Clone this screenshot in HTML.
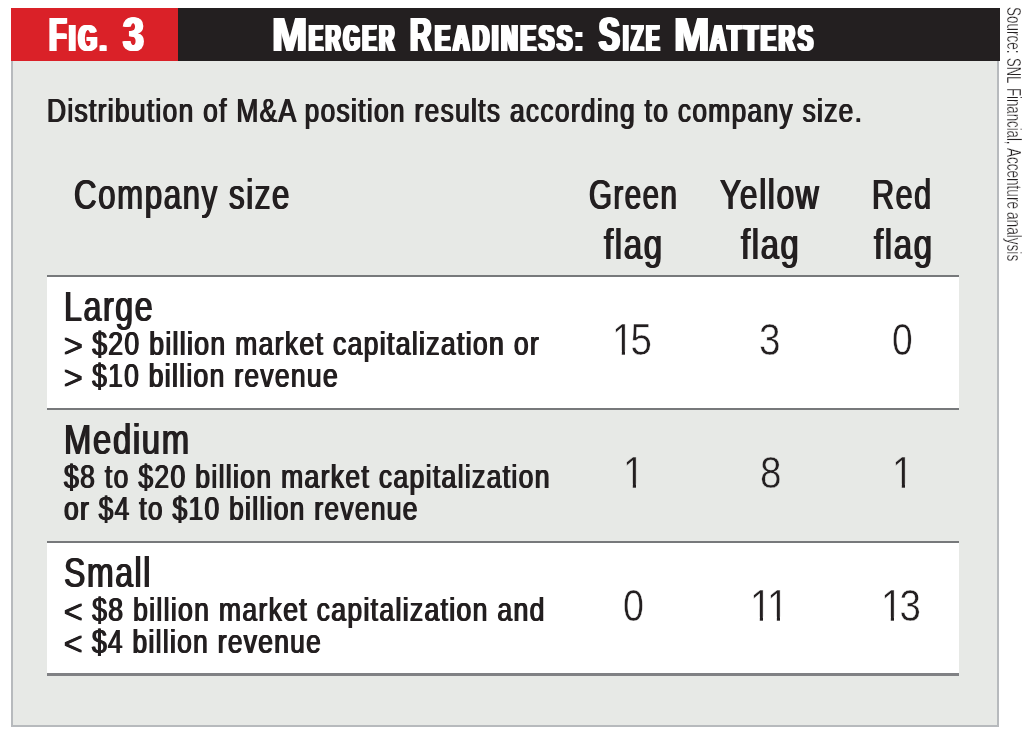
<!DOCTYPE html>
<html lang="en">
<head>
<meta charset="utf-8">
<title>Fig. 3 Merger Readiness: Size Matters</title>
<style>
html,body{margin:0;padding:0}
body{width:1032px;height:733px;position:relative;overflow:hidden;background:#fff;font-family:"Liberation Sans",sans-serif;color:#231f20}
figure,h1,p,table,thead,tbody{display:block;margin:0;padding:0;border:0;font:inherit}
th,td{display:inline;padding:0;font:inherit}
.panel{position:absolute;left:11px;top:57px;width:984px;height:665.8px;background:#e7e9e6;border:2.5px solid #b7babd}
.bar{position:absolute;left:11px;top:8px;width:989px;height:53px;background:#231f20}
.bar .tag{position:absolute;left:0;top:0;width:166.6px;height:53px;background:#da2128}
.row{display:block;position:absolute;left:47px;width:912px;height:131px;border-top:2px solid #77797b}
.row.w{background:#fff}
.row.head{top:165px;height:110px;border-top:0}
.row.end{height:0;border-top:3px solid #808184}
.t{position:absolute;white-space:nowrap;line-height:1;transform-origin:0 0;display:inline-block}
.hd{left:-11px;color:#fff;font-weight:bold;font-size:37.6px;letter-spacing:0.13em;text-shadow:-3px 0 0,-1.5px 0 0,1.5px 0 0,3px 0 0}
.hd b,.hd span{display:inline-block;position:relative;transform-origin:0 0}
.hd b{font-size:48.2px;text-shadow:-2.6px 0 0,-1.3px 0 0,1.3px 0 0,2.6px 0 0}
.hd b.m{text-shadow:-1.4px 0 0,1.4px 0 0}
.hd b.n{text-shadow:-1.9px 0 0,-0.9px 0 0,0.9px 0 0,1.9px 0 0}
.md{font-size:43.4px;font-weight:normal;letter-spacing:0.05em;text-shadow:-1px 0 0,1px 0 0}
.sm{font-size:33.1px;font-weight:normal;letter-spacing:0.05em;text-shadow:-0.85px 0 0,0.85px 0 0}
.g{display:inline-block;transform:translateY(2px) scaleX(1.2);transform-origin:0 0;margin-right:0.1em}
.lt{font-size:43.8px;font-weight:normal;-webkit-text-stroke:0.5px #fff}
.alt .lt{-webkit-text-stroke-color:#e7e9e6}
.one{display:inline-block;clip-path:polygon(0 0,1em 0,1em .74em,.337em .74em,.337em 1em,.255em 1em,.255em .74em,0 .74em)}
.src{position:absolute;left:0;top:0;width:0;height:0;transform-origin:0 0;white-space:nowrap;transform:translate(1006.9px,0) rotate(90deg)}
.sv{font-size:19.3px;font-weight:normal;-webkit-text-stroke:0.3px #fff}
</style>
</head>
<body>
<figure>
<div class="panel"></div>
<h1 class="bar" aria-label="Fig. 3 Merger Readiness: Size Matters"><span class="tag"></span>
<span class="t hd" style="top:2.00px"><b style="left:49.00px;transform:scaleX(0.6016)">F</b><span style="left:35.00px;transform:scaleX(0.6234)">IG.</span></span>
<span class="t hd" style="top:2.00px"><b class="n" style="left:123.00px;transform:scaleX(0.7754)">3</b></span>
<span class="t hd" style="top:2.00px"><b class="m" style="left:272.00px;transform:scaleX(0.8818)">M</b><span style="left:264.00px;transform:scaleX(0.5571)">ERGER</span></span>
<span class="t hd" style="top:2.00px"><b style="left:410.00px;transform:scaleX(0.6184)">R</b><span style="left:395.00px;transform:scaleX(0.6060)">EADINESS:</span></span>
<span class="t hd" style="top:2.00px"><b style="left:599.00px;transform:scaleX(0.6412)">S</b><span style="left:586.00px;transform:scaleX(0.5342)">IZE</span></span>
<span class="t hd" style="top:2.00px"><b class="m" style="left:674.00px;transform:scaleX(0.8845)">M</b><span style="left:665.00px;transform:scaleX(0.5986)">ATTERS</span></span>
</h1>
<p><span class="t sm" style="left:47.00px;top:94.00px;transform:scaleX(0.7961)">Distribution of M&amp;A position results according to company size.</span></p>
<table>
<thead>
<tr class="row head">
<th><span class="t md" style="left:27.00px;top:8.00px;transform:scaleX(0.7208)">Company size</span></th>
<th><span class="t md" style="left:542.00px;top:8.00px;transform:scaleX(0.6802)">Green</span> <span class="t md" style="left:557.00px;top:58.00px;transform:scaleX(0.7616)">flag</span></th>
<th><span class="t md" style="left:673.00px;top:8.00px;transform:scaleX(0.7327)">Yellow</span> <span class="t md" style="left:694.00px;top:58.00px;transform:scaleX(0.7543)">flag</span></th>
<th><span class="t md" style="left:825.00px;top:8.00px;transform:scaleX(0.7048)">Red</span> <span class="t md" style="left:827.00px;top:58.00px;transform:scaleX(0.7581)">flag</span></th>
</tr>
</thead>
<tbody>
<tr class="row w" style="top:275px">
<td><span class="t md" style="left:17.00px;top:8.00px;transform:scaleX(0.7408)">Large</span> <span class="t sm" style="left:17.00px;top:50.00px;transform:scaleX(0.8029)"><span class="g">&gt;</span> $20 billion market capitalization or</span> <span class="t sm" style="left:17.00px;top:82.00px;transform:scaleX(0.7987)"><span class="g">&gt;</span> $10 billion revenue</span></td>
<td><span class="t lt" style="left:565.00px;top:41.00px;transform:scaleX(0.8800);letter-spacing:-3.3px"><span class="one">1</span>5</span></td>
<td><span class="t lt" style="left:712.00px;top:41.00px;transform:scaleX(0.8839)">3</span></td>
<td><span class="t lt" style="left:845.00px;top:41.00px;transform:scaleX(0.8503)">0</span></td>
</tr>
<tr class="row alt" style="top:408px">
<td><span class="t md" style="left:17.00px;top:8.00px;transform:scaleX(0.7575)">Medium</span> <span class="t sm" style="left:17.00px;top:50.00px;transform:scaleX(0.8020)">$8 to $20 billion market capitalization</span> <span class="t sm" style="left:17.00px;top:82.00px;transform:scaleX(0.7964)">or $4 to $10 billion revenue</span></td>
<td><span class="t lt" style="left:576.00px;top:41.00px;transform:scaleX(0.8800)"><span class="one">1</span></span></td>
<td><span class="t lt" style="left:713.00px;top:41.00px;transform:scaleX(0.8842)">8</span></td>
<td><span class="t lt" style="left:845.00px;top:41.00px;transform:scaleX(0.8800)"><span class="one">1</span></span></td>
</tr>
<tr class="row w" style="top:540.5px">
<td><span class="t md" style="left:17.00px;top:8.50px;transform:scaleX(0.7375)">Small</span> <span class="t sm" style="left:17.00px;top:50.50px;transform:scaleX(0.8023)"><span class="g">&lt;</span> $8 billion market capitalization and</span> <span class="t sm" style="left:17.00px;top:82.50px;transform:scaleX(0.7961)"><span class="g">&lt;</span> $4 billion revenue</span></td>
<td><span class="t lt" style="left:576.00px;top:41.50px;transform:scaleX(0.8594)">0</span></td>
<td><span class="t lt" style="left:703.00px;top:41.50px;transform:scaleX(0.8800);letter-spacing:-5.0px"><span class="one">1</span><span class="one">1</span></span></td>
<td><span class="t lt" style="left:834.00px;top:41.50px;transform:scaleX(0.8800);letter-spacing:-3.3px"><span class="one">1</span>3</span></td>
</tr>
<tr class="row end" style="top:673px"></tr>
</tbody>
</table>
<p class="src"><span class="t sv" style="left:7.00px;top:-15.81px;transform:scaleX(0.6978)">Source:</span> <span class="t sv" style="left:58.00px;top:-15.81px;transform:scaleX(0.6722)">SNL</span> <span class="t sv" style="left:88.00px;top:-15.81px;transform:scaleX(0.6849)">Financial,</span> <span class="t sv" style="left:148.00px;top:-15.81px;transform:scaleX(0.7019)">Accenture</span> <span class="t sv" style="left:212.00px;top:-15.81px;transform:scaleX(0.7063)">analysis</span></p>
</figure>
</body>
</html>
